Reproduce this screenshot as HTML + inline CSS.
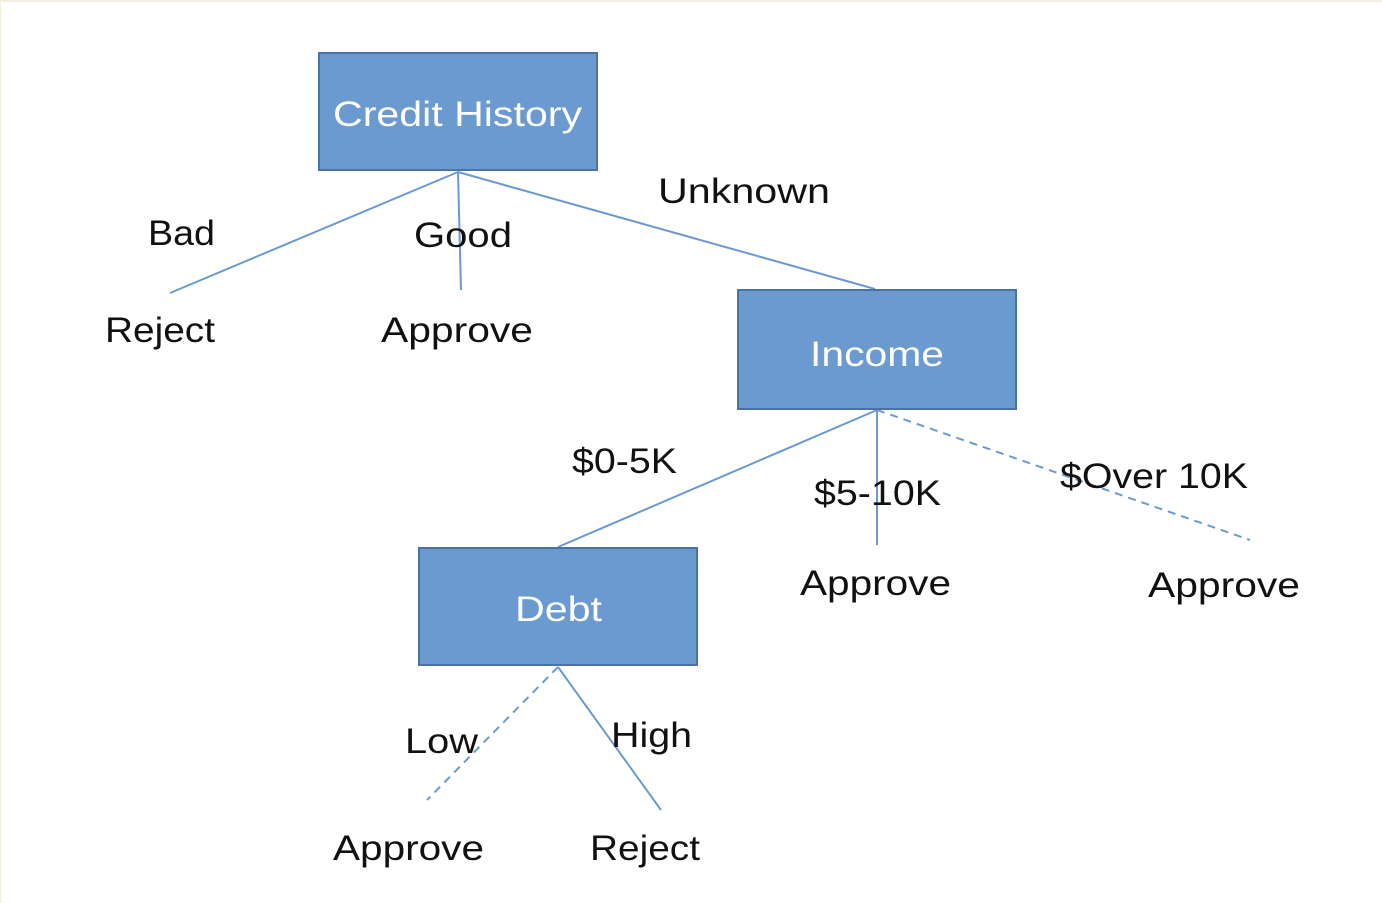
<!DOCTYPE html>
<html><head><meta charset="utf-8"><style>
html,body{margin:0;padding:0;background:#fff;}
svg{display:block;}
text{font-family:"Liberation Sans",sans-serif;font-size:35px;fill:#111;}
.w{fill:#fff;}
</style></head><body>
<svg width="1382" height="903" viewBox="0 0 1382 903" xmlns="http://www.w3.org/2000/svg">
<rect x="0" y="0" width="1382" height="903" fill="#fff"/>
<rect x="0" y="0" width="1382" height="2" fill="#f3eee0"/>
<rect x="0" y="0" width="1" height="903" fill="#f3eee0"/>
<g stroke="#6a9ad0" stroke-width="2" fill="none">
<line x1="458" y1="172" x2="170" y2="293"/>
<line x1="458" y1="172" x2="461" y2="290"/>
<line x1="458" y1="172" x2="875" y2="289"/>
<line x1="877" y1="410" x2="558" y2="547"/>
<line x1="877" y1="410" x2="877" y2="545"/>
<line x1="877" y1="410" x2="1250" y2="540" stroke-dasharray="8,6"/>
<line x1="558" y1="667" x2="427" y2="800" stroke-dasharray="8,6"/>
<line x1="558" y1="667" x2="661" y2="810"/>
</g>
<g fill="#6a9ad0" stroke="#4a72a8" stroke-width="2">
<rect x="319" y="53" width="278" height="117"/>
<rect x="738" y="290" width="278" height="119"/>
<rect x="419" y="548" width="278" height="117"/>
</g>
<text class="w" x="333" y="126" textLength="249" lengthAdjust="spacingAndGlyphs">Credit History</text>
<text class="w" x="810" y="366" textLength="134" lengthAdjust="spacingAndGlyphs">Income</text>
<text class="w" x="515" y="621" textLength="87" lengthAdjust="spacingAndGlyphs">Debt</text>
<text x="148" y="245" textLength="67" lengthAdjust="spacingAndGlyphs">Bad</text>
<text x="414" y="247" textLength="98" lengthAdjust="spacingAndGlyphs">Good</text>
<text x="658" y="203" textLength="172" lengthAdjust="spacingAndGlyphs">Unknown</text>
<text x="105" y="342" textLength="110" lengthAdjust="spacingAndGlyphs">Reject</text>
<text x="381" y="342" textLength="152" lengthAdjust="spacingAndGlyphs">Approve</text>
<text x="572" y="473" textLength="105" lengthAdjust="spacingAndGlyphs">$0-5K</text>
<text x="814" y="505" textLength="127" lengthAdjust="spacingAndGlyphs">$5-10K</text>
<text x="1060" y="488" textLength="188" lengthAdjust="spacingAndGlyphs">$Over 10K</text>
<text x="800" y="595" textLength="151" lengthAdjust="spacingAndGlyphs">Approve</text>
<text x="1148" y="597" textLength="152" lengthAdjust="spacingAndGlyphs">Approve</text>
<text x="405" y="753" textLength="73" lengthAdjust="spacingAndGlyphs">Low</text>
<text x="611" y="747" textLength="81" lengthAdjust="spacingAndGlyphs">High</text>
<text x="333" y="860" textLength="151" lengthAdjust="spacingAndGlyphs">Approve</text>
<text x="590" y="860" textLength="110" lengthAdjust="spacingAndGlyphs">Reject</text>
</svg>
</body></html>
